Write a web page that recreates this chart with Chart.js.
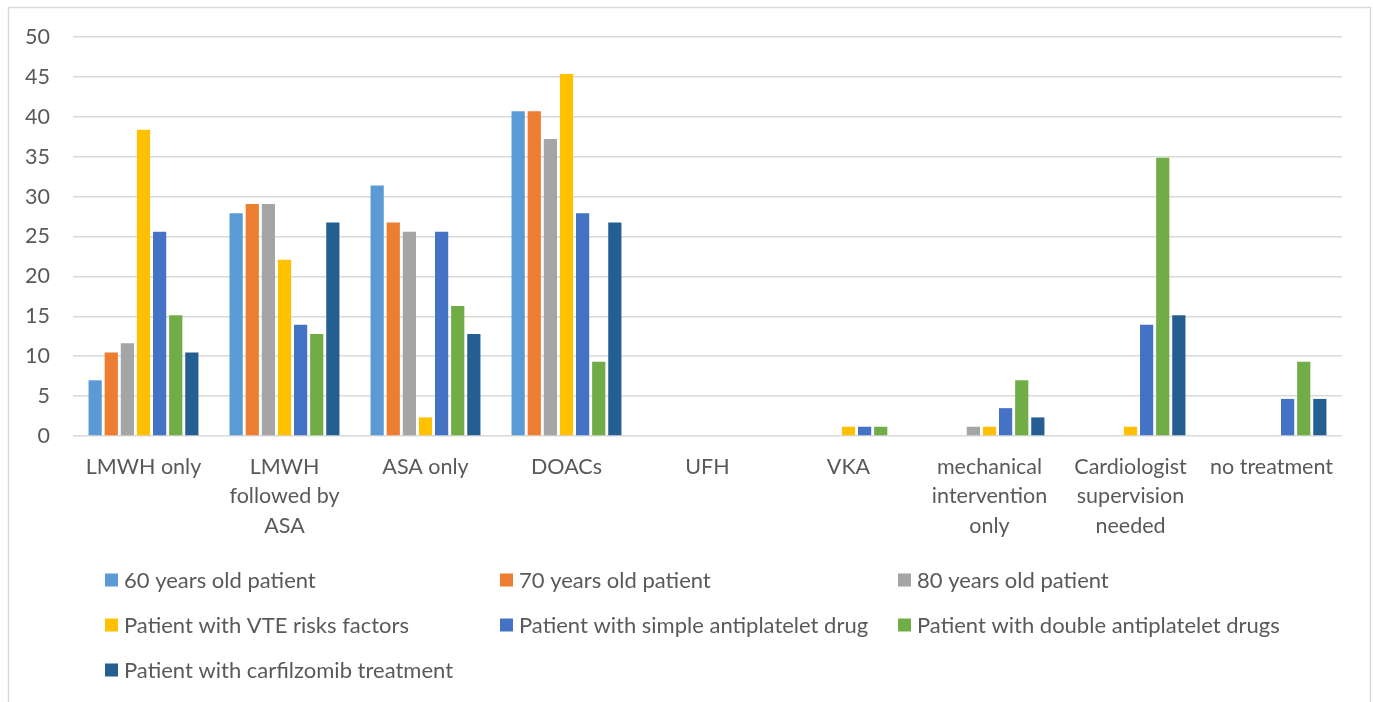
<!DOCTYPE html>
<html>
<head>
<meta charset="utf-8">
<script src="https://cdn.jsdelivr.net/npm/chart.js@4"></script>
<style>
html,body{margin:0;padding:0;background:#fff;}
#wrap{position:relative;width:1373px;height:702px;}
</style>
</head>
<body>
<div id="wrap"><canvas id="c" width="1373" height="702"></canvas></div>
<script>
const categories = [
  "LMWH only",
  ["LMWH", "followed by", "ASA"],
  "ASA only",
  "DOACs",
  "UFH",
  "VKA",
  ["mechanical", "intervention", "only"],
  ["Cardiologist", "supervision", "needed"],
  "no treatment"
];
const seriesNames = [
  "60 years old patient",
  "70 years old patient",
  "80 years old patient",
  "Patient with VTE risks factors",
  "Patient with simple antiplatelet drug",
  "Patient with double antiplatelet drugs",
  "Patient with carfilzomib treatment"
];
const age60      = [6.98, 27.91, 31.40, 40.70, 0, 0, 0, 0, 0];
const age70      = [10.47, 29.07, 26.74, 40.70, 0, 0, 0, 0, 0];
const age80      = [11.63, 29.07, 25.58, 37.21, 0, 0, 1.16, 0, 0];
const vteRisk    = [38.37, 22.09, 2.33, 45.35, 0, 1.16, 1.16, 1.16, 0];
const simpleAP   = [25.58, 13.95, 25.58, 27.91, 0, 1.16, 3.49, 13.95, 4.65];
const doubleAP   = [15.12, 12.79, 16.28, 9.30, 0, 1.16, 6.98, 34.88, 9.30];
const carfilzomib= [10.47, 26.74, 12.79, 26.74, 0, 0, 2.33, 15.12, 4.65];
const yTicks = [0, 5, 10, 15, 20, 25, 30, 35, 40, 45, 50];

const colors = ["#5B9BD5", "#ED7D31", "#A5A5A5", "#FFC000", "#4472C4", "#70AD47", "#255E91"];
const seriesValues = [age60, age70, age80, vteRisk, simpleAP, doubleAP, carfilzomib];

const FONT = "Lato, 'Open Sans', sans-serif";
const TXT = "#595959";

const framePlugin = {
  id: 'frame',
  beforeDraw(chart) {
    const ctx = chart.ctx;
    ctx.save();
    ctx.fillStyle = '#fff';
    ctx.fillRect(0, 0, chart.width, chart.height);
    ctx.strokeStyle = '#d9d9d9';
    ctx.lineWidth = 1.5;
    ctx.strokeRect(8.5, 7.5, 1362, 760);
    ctx.restore();
  }
};

const legendPlugin = {
  id: 'gridLegend',
  afterDraw(chart) {
    const ctx = chart.ctx;
    const cols = [105, 500, 898];
    const rows = [580, 625, 670];
    ctx.save();
    ctx.font = "22px " + FONT;
    ctx.textBaseline = 'middle';
    ctx.textAlign = 'left';
    chart.data.datasets.forEach((ds, i) => {
      const x = cols[i % 3];
      const y = rows[Math.floor(i / 3)];
      ctx.fillStyle = ds.backgroundColor;
      ctx.fillRect(x, y - 6.5, 13, 13);
      ctx.fillStyle = TXT;
      ctx.fillText(ds.label, x + 19, y + 1);
    });
    ctx.restore();
  }
};

new Chart(document.getElementById('c'), {
  type: 'bar',
  data: {
    labels: categories,
    datasets: seriesNames.map((n, i) => ({
      label: n,
      data: seriesValues[i],
      backgroundColor: colors[i],
      borderWidth: 0,
      categoryPercentage: 0.8,
      barPercentage: 0.82
    }))
  },
  options: {
    responsive: false,
    animation: false,
    devicePixelRatio: 1,
    layout: { padding: { top: 37, right: 31, left: 0, bottom: 0 } },
    plugins: { legend: { display: false }, tooltip: { enabled: false } },
    scales: {
      x: {
        grid: { display: false, drawTicks: false },
        border: { display: false },
        ticks: {
          color: TXT,
          font: { family: FONT, size: 21.5, lineHeight: 1.37 },
          padding: 16,
          maxRotation: 0,
          autoSkip: false
        },
        afterFit(s) { s.height = 702 - 37 - 399; }
      },
      y: {
        min: 0, max: 50,
        afterBuildTicks(s) { s.ticks = yTicks.map(v => ({ value: v })); },
        grid: { color: '#d9d9d9', lineWidth: 1.5, drawTicks: false },
        border: { display: false },
        ticks: {
          color: TXT,
          font: { family: FONT, size: 21.5 },
          padding: 23
        },
        afterFit(s) { s.width = 73; }
      }
    }
  },
  plugins: [framePlugin, legendPlugin]
});
</script>
</body>
</html>
